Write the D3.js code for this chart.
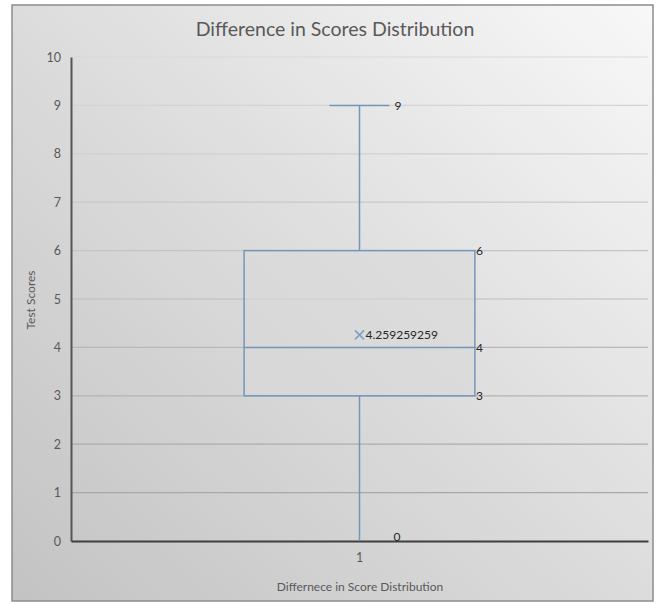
<!DOCTYPE html>
<html>
<head>
<meta charset="utf-8">
<script src="https://cdn.jsdelivr.net/npm/d3@7"></script>
<style>
  html, body { margin: 0; padding: 0; background: #ffffff; }
  svg { display: block; }
  text { font-family: Lato, "Open Sans", sans-serif; }
</style>
</head>
<body>
<svg id="chart" width="659" height="604"></svg>
<script>
// Box-and-whisker summary of the score differences
const categories = ["1"];
const minValues = [0];
const q1Values = [3];
const medianValues = [4];
const q3Values = [6];
const maxValues = [9];
const meanValues = [4.259259259];
const yTicks = [0, 1, 2, 3, 4, 5, 6, 7, 8, 9, 10];

const chartTitle = "Difference in Scores Distribution";
const xTitle = "Differnece in Score Distribution";
const yTitle = "Test Scores";

const plot = { left: 71, right: 648, top: 57, bottom: 541 };

const svg = d3.select("#chart");
const defs = svg.append("defs");

// Chart-area background: diagonal grey gradient
const grad = defs.append("linearGradient")
  .attr("id", "bg").attr("x1", "1").attr("y1", "0").attr("x2", "0").attr("y2", "1");
grad.append("stop").attr("offset", "0%").attr("stop-color", "#f8f8f8");
grad.append("stop").attr("offset", "50%").attr("stop-color", "#dcdcdc");
grad.append("stop").attr("offset", "100%").attr("stop-color", "#c3c3c3");

svg.append("rect")
  .attr("x", 12).attr("y", 5).attr("width", 641).attr("height", 596)
  .attr("fill", "url(#bg)")
  .attr("stroke", "#8c8c8c").attr("stroke-width", 1.5);

const y = d3.scaleLinear().domain([0, 10]).range([plot.bottom, plot.top]);
const x = d3.scaleBand().domain(categories).range([plot.left, plot.right]).paddingInner(0).paddingOuter(0);

// Horizontal gridlines
svg.append("g")
  .selectAll("line")
  .data(yTicks.filter(t => t > 0))
  .join("line")
  .attr("x1", plot.left).attr("x2", plot.right)
  .attr("y1", d => y(d)).attr("y2", d => y(d))
  .attr("stroke", d => d3.interpolateRgb("#a2a2a2", "#dadada")(d / 10))
  .attr("stroke-width", 1.2);

// Y axis
const yAxis = svg.append("g")
  .attr("transform", `translate(${plot.left},0)`)
  .call(d3.axisLeft(y).tickValues(yTicks).tickSize(0).tickPadding(10).tickFormat(d3.format("d")));
yAxis.select(".domain").attr("stroke", "#555555").attr("stroke-width", 2);
yAxis.selectAll("text").attr("fill", "#595959").attr("font-size", 12.5);

// X axis
const xAxis = svg.append("g")
  .attr("transform", `translate(0,${plot.bottom})`)
  .call(d3.axisBottom(x).tickSize(0).tickPadding(12));
xAxis.select(".domain").attr("stroke", "#3f3f3f").attr("stroke-width", 2);
xAxis.selectAll("text").attr("fill", "#595959").attr("font-size", 12.5);

// Boxes
const boxColor = "#7397bb";
const rows = categories.map((c, i) => ({
  c, min: minValues[i], q1: q1Values[i], med: medianValues[i],
  q3: q3Values[i], max: maxValues[i], mean: meanValues[i]
}));
const boxW = x.bandwidth() * 0.4;
const capW = x.bandwidth() * 0.104;

const g = svg.append("g");
rows.forEach(r => {
  const cx = x(r.c) + x.bandwidth() / 2;
  // whiskers
  g.append("line").attr("x1", cx).attr("x2", cx).attr("y1", y(r.max)).attr("y2", y(r.q3))
    .attr("stroke", boxColor).attr("stroke-width", 1.5);
  g.append("line").attr("x1", cx).attr("x2", cx).attr("y1", y(r.q1)).attr("y2", y(r.min))
    .attr("stroke", boxColor).attr("stroke-width", 1.5);
  g.append("line").attr("x1", cx - capW / 2).attr("x2", cx + capW / 2)
    .attr("y1", y(r.max)).attr("y2", y(r.max))
    .attr("stroke", boxColor).attr("stroke-width", 1.5);
  // box
  g.append("rect")
    .attr("x", cx - boxW / 2).attr("y", y(r.q3))
    .attr("width", boxW).attr("height", y(r.q1) - y(r.q3))
    .attr("fill", "#d8d8d8").attr("fill-opacity", 0.6)
    .attr("stroke", boxColor).attr("stroke-width", 1.5);
  // median
  g.append("line").attr("x1", cx - boxW / 2).attr("x2", cx + boxW / 2)
    .attr("y1", y(r.med)).attr("y2", y(r.med))
    .attr("stroke", boxColor).attr("stroke-width", 1.5);
  // mean marker
  const my = y(r.mean), s = 4.5;
  g.append("path")
    .attr("d", `M${cx - s},${my - s}L${cx + s},${my + s}M${cx - s},${my + s}L${cx + s},${my - s}`)
    .attr("stroke", "#7f9fc4").attr("stroke-width", 1.6).attr("fill", "none");

  // value labels
  const lbl = (tx, ty, v) => g.append("text")
    .attr("x", tx).attr("y", ty).attr("dy", "0.35em")
    .attr("font-size", 12).attr("fill", "#262626").text(v);
  lbl(cx + capW / 2 + 5, y(r.max), r.max);
  lbl(cx + boxW / 2 + 1, y(r.q3), r.q3);
  lbl(cx + boxW / 2 + 1, y(r.med), r.med);
  lbl(cx + boxW / 2 + 1, y(r.q1), r.q1);
  lbl(cx + 34, y(r.min) - 4, r.min);
  lbl(cx + 6, my, r.mean);
});

// Titles
svg.append("text")
  .attr("x", 335).attr("y", 36).attr("text-anchor", "middle")
  .attr("font-size", 19.5).attr("fill", "#595959").text(chartTitle);

svg.append("text")
  .attr("x", 360).attr("y", 591).attr("text-anchor", "middle")
  .attr("font-size", 12).attr("fill", "#595959").text(xTitle);

svg.append("text")
  .attr("transform", "translate(35,300) rotate(-90)")
  .attr("text-anchor", "middle")
  .attr("font-size", 12).attr("fill", "#595959").text(yTitle);
</script>
</body>
</html>
